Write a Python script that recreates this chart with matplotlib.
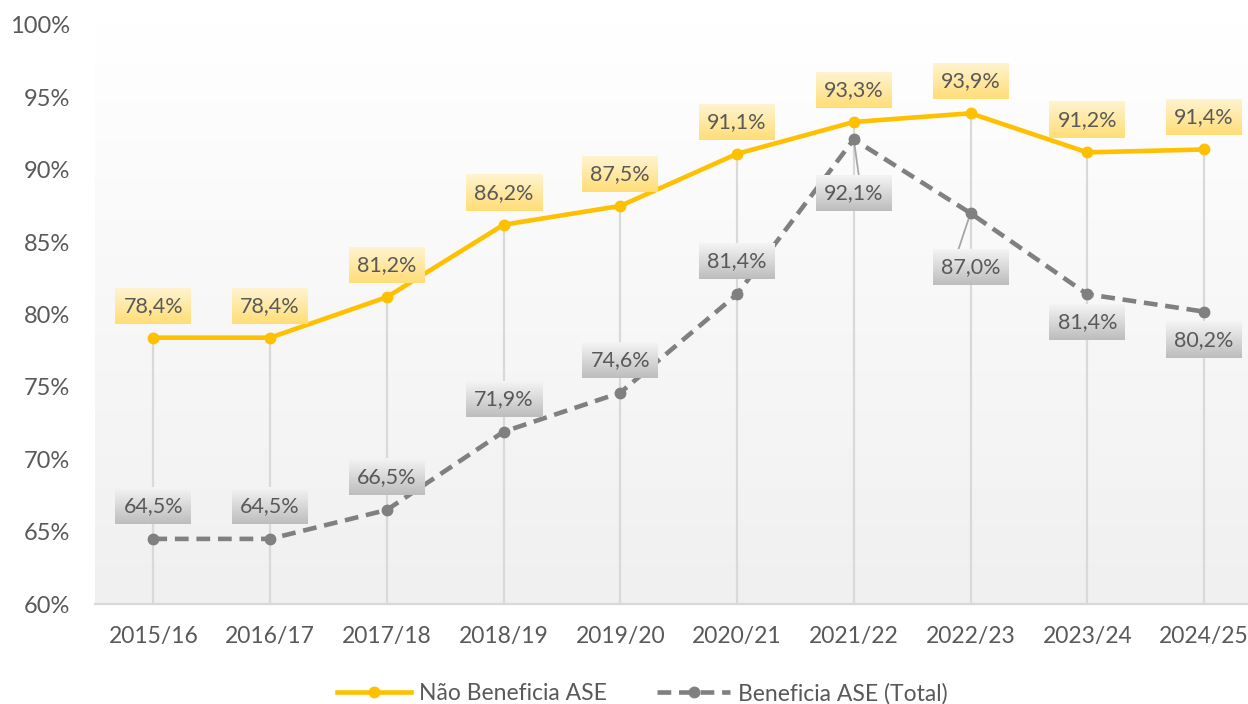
import numpy as np
import matplotlib.pyplot as plt
from matplotlib.lines import Line2D
from matplotlib.colors import LinearSegmentedColormap

plt.rcParams['font.family'] = ['Lato', 'DejaVu Sans']

years = ['2015/16', '2016/17', '2017/18', '2018/19', '2019/20',
         '2020/21', '2021/22', '2022/23', '2023/24', '2024/25']
nao_ase = [78.4, 78.4, 81.2, 86.2, 87.5, 91.1, 93.3, 93.9, 91.2, 91.4]
ase_total = [64.5, 64.5, 66.5, 71.9, 74.6, 81.4, 92.1, 87.0, 81.4, 80.2]
# label placement for the grey series: 1 above the point, -1 below
ase_side = [1, 1, 1, 1, 1, 1, -1, -1, -1, -1]

yellow = '#FFC000'
grey = '#808080'
txt = '#595959'
dash = (0, (3, 1.7))

fig = plt.figure(figsize=(12.48, 7.04), dpi=100)
ax = fig.add_axes([0.0761, 0.142, 0.9239, 0.8225])
x = np.arange(len(years))
ax.set_xlim(-0.5, 9.377)
ax.set_ylim(60, 100)

# background gradient of the plot area
bg = LinearSegmentedColormap.from_list('bg', ['#FFFFFF', '#F0F0F0'])
ax.imshow(np.linspace(0, 1, 256).reshape(-1, 1), cmap=bg, aspect='auto',
          extent=(-0.5, 9.377, 60, 100), zorder=0, origin='upper')

# drop lines
ax.vlines(x, 60, np.maximum(nao_ase, ase_total), color='#D9D9D9', lw=1.6, zorder=1)

ax.plot(x, nao_ase, color=yellow, lw=3.3, marker='o', ms=7.5, zorder=4,
        solid_capstyle='round')
ax.plot(x, ase_total, color=grey, lw=3.3, ls=dash, marker='o', ms=7.5, zorder=3)

for s in ['top', 'right', 'left']:
    ax.spines[s].set_visible(False)
ax.spines['bottom'].set_color('#D9D9D9')
ax.spines['bottom'].set_linewidth(1.6)
ax.set_xticks(x)
ax.set_xticklabels(years)
ax.set_yticks(range(60, 101, 5))
ax.set_yticklabels([f'{v}%' for v in range(60, 101, 5)])
ax.tick_params(axis='x', length=0, labelsize=16.5, labelcolor=txt, pad=16)
ax.tick_params(axis='y', length=0, labelsize=17, labelcolor=txt, pad=18)

yl_cmap = LinearSegmentedColormap.from_list('yl', ['#FFF4D0', '#FFDD77'])
gr_cmap = LinearSegmentedColormap.from_list('gr', ['#F4F4F4', '#BDBDBD'])
to_data = ax.transData.inverted()


def label(xi, yi, dy_px, text, cmap, lead=None):
    px, py = ax.transData.transform((xi, yi))
    cx, cy = px, py + dy_px
    w, h = 76, 36
    (x0, y0) = to_data.transform((cx - w / 2, cy - h / 2))
    (x1, y1) = to_data.transform((cx + w / 2, cy + h / 2))
    ax.imshow(np.linspace(0, 1, 64).reshape(-1, 1), cmap=cmap, aspect='auto',
              extent=(x0, x1, y0, y1), origin='upper', zorder=5)
    tx, ty = to_data.transform((cx, cy))
    ax.text(tx, ty, text, ha='center', va='center', fontsize=15.5, color=txt, zorder=6)
    if lead is not None:
        lx, ly = to_data.transform((cx + lead, cy + h / 2))
        ax.plot([xi, lx], [yi, ly], color='#A6A6A6', lw=1.3, zorder=2)


def fmt(v):
    return f'{v:.1f}%'.replace('.', ',')


for i, v in enumerate(nao_ase):
    label(i, v, 32, fmt(v), yl_cmap)

leads = {6: 5, 7: -12}
for i, v in enumerate(ase_total):
    if ase_side[i] > 0:
        label(i, v, 33, fmt(v), gr_cmap)
    else:
        off = 54 if i in leads else 28
        label(i, v, -off, fmt(v), gr_cmap, lead=leads.get(i))

ax.set_xlim(-0.5, 9.377)
ax.set_ylim(60, 100)

handles = [
    Line2D([], [], color=yellow, lw=3.3, marker='o', ms=7.5),
    Line2D([], [], color=grey, lw=3.3, ls=dash, marker='o', ms=7.5),
]
fig.legend(handles, ['Não Beneficia ASE', 'Beneficia ASE (Total)'], loc='lower center',
           bbox_to_anchor=(0.515, -0.03), ncol=2, frameon=False, fontsize=16.5,
           labelcolor=txt, handlelength=3.2, handletextpad=0.35, columnspacing=2.2)

fig.savefig('out.png', dpi=100)
